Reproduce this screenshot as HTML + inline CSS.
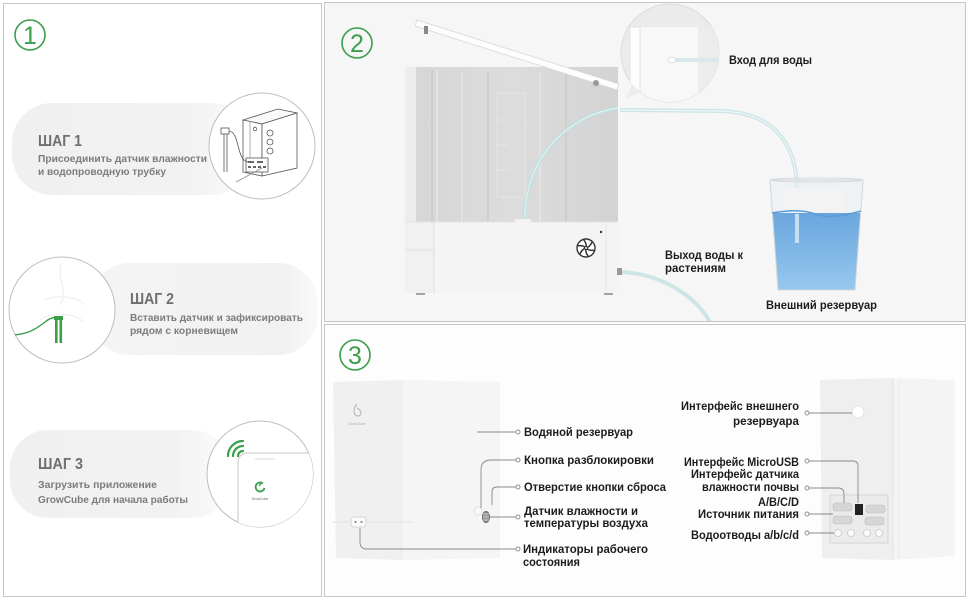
<!DOCTYPE html>
<html><head><meta charset="utf-8"><style>
html,body{margin:0;padding:0;background:#fff;}
svg{display:block;}
text{font-family:"Liberation Sans","DejaVu Sans",sans-serif;}
.lb{font-size:11.5px;font-weight:bold;fill:#1c1c1c;}
.st{font-size:16px;font-weight:bold;fill:#6f6f6f;}
.sd{font-size:10.5px;font-weight:bold;fill:#7c7c7c;}
.num{font-size:25px;fill:#3a9e4a;}
</style></head><body>
<svg width="970" height="600" viewBox="0 0 970 600" xmlns="http://www.w3.org/2000/svg">
<defs>
<clipPath id="c1"><circle cx="262" cy="146" r="53"/></clipPath>
<clipPath id="c2"><circle cx="62" cy="310" r="53"/></clipPath>
<clipPath id="c3"><circle cx="260" cy="474" r="53"/></clipPath>
<clipPath id="cb"><circle cx="670" cy="53" r="49"/></clipPath>
<clipPath id="p2"><rect x="325" y="3" width="640" height="318"/></clipPath>
<linearGradient id="b1" x1="0" x2="1" y1="0" y2="0">
<stop offset="0" stop-color="#f0f0f0"/><stop offset="0.75" stop-color="#f2f2f2"/><stop offset="1" stop-color="#fcfcfc"/></linearGradient>
<linearGradient id="b2" x1="0" x2="1" y1="0" y2="0">
<stop offset="0" stop-color="#f4f4f4"/><stop offset="0.85" stop-color="#f1f1f1"/><stop offset="1" stop-color="#f9f9f9"/></linearGradient>
<linearGradient id="water" x1="0" x2="0" y1="0" y2="1">
<stop offset="0" stop-color="#6aa6de"/><stop offset="1" stop-color="#97c8ee"/></linearGradient>
<linearGradient id="tank" x1="0" x2="1" y1="0" y2="0">
<stop offset="0" stop-color="#d6d6d6"/><stop offset="0.5" stop-color="#dcdcdc"/><stop offset="1" stop-color="#d3d3d3"/></linearGradient>
</defs>

<rect width="970" height="600" fill="#fff"/>

<!-- LEFT PANEL -->
<rect x="3.5" y="3.5" width="318" height="593" fill="#fff" stroke="#c6c6c6"/>
<circle cx="30" cy="35" r="15" fill="none" stroke="#3a9e4a" stroke-width="1.6"/>
<text x="30" y="44" text-anchor="middle" class="num">1</text>

<rect x="12" y="103" width="240" height="92" rx="40" fill="url(#b1)"/>
<text x="38" y="146" class="st" textLength="44" lengthAdjust="spacingAndGlyphs">ШАГ 1</text>
<text x="38" y="162" class="sd" textLength="169" lengthAdjust="spacingAndGlyphs">Присоединить датчик влажности</text>
<text x="38" y="175" class="sd" textLength="128" lengthAdjust="spacingAndGlyphs">и водопроводную трубку</text>
<circle cx="262" cy="146" r="53" fill="#fff" stroke="#bdbdbd"/>
<g clip-path="url(#c1)" fill="none" stroke="#555" stroke-width="0.8">
<polygon points="243,120 262,124 297,113 278,109" fill="#fafafa"/>
<polygon points="243,120 262,124 262,176 243,172" fill="#fff"/>
<polygon points="262,124 297,113 297,168 262,176" fill="#fff"/>
<line x1="250" y1="121" x2="250" y2="158" stroke="#999"/>
<circle cx="255" cy="129" r="1.8"/>
<circle cx="270" cy="133" r="3"/><circle cx="270" cy="142" r="3"/><circle cx="270" cy="151" r="3"/>
<rect x="246" y="158" width="22" height="14" fill="#fff"/>
<path d="M248 162h6M257 162h6M248 167h3M253 167h3M258 167h3M263 167h3" stroke="#333" stroke-width="1.5"/>
<line x1="224" y1="132" x2="224" y2="172"/><line x1="227" y1="132" x2="227" y2="172"/>
<rect x="221" y="128" width="8" height="6" fill="#fff"/>
<path d="M229 131 C240 132, 236 160, 248 162"/>
<path d="M236 182 L262 168" stroke="#888"/>
</g>

<rect x="90" y="263" width="228" height="92" rx="40" fill="url(#b2)"/>
<text x="130" y="304" class="st" textLength="44" lengthAdjust="spacingAndGlyphs">ШАГ 2</text>
<text x="130" y="321" class="sd" textLength="173" lengthAdjust="spacingAndGlyphs">Вставить датчик и зафиксировать</text>
<text x="130" y="334" class="sd" textLength="108" lengthAdjust="spacingAndGlyphs">рядом с корневищем</text>
<circle cx="62" cy="310" r="53" fill="#fff" stroke="#bdbdbd"/>
<g clip-path="url(#c2)">
<path d="M62 262 C55 280, 70 290, 60 305 M45 300 C55 295, 75 295, 85 305 M40 320 C50 312, 72 312, 84 322" fill="none" stroke="#f2f2f2" stroke-width="1.5"/>
<path d="M5 335 C25 336, 35 330, 45 322 C50 318, 54 317, 57 318" fill="none" stroke="#3a9e4a" stroke-width="1.4"/>
<rect x="54" y="316" width="9" height="4" fill="#3a9e4a"/>
<rect x="55" y="318" width="2.6" height="25" fill="#3a9e4a"/>
<rect x="59.5" y="318" width="2.6" height="25" fill="#3a9e4a"/>
</g>

<rect x="10" y="430" width="220" height="88" rx="38" fill="url(#b1)"/>
<text x="38" y="469" class="st" textLength="45" lengthAdjust="spacingAndGlyphs">ШАГ 3</text>
<text x="38" y="488" class="sd" textLength="119" lengthAdjust="spacingAndGlyphs">Загрузить приложение</text>
<text x="38" y="503" class="sd" textLength="150" lengthAdjust="spacingAndGlyphs">GrowCube для начала работы</text>
<circle cx="260" cy="474" r="53" fill="#fff" stroke="#bdbdbd"/>
<g clip-path="url(#c3)">
<rect x="238" y="453" width="80" height="110" rx="9" fill="#fff" stroke="#c6c6c6"/>
<line x1="255" y1="459" x2="275" y2="459" stroke="#ddd" stroke-width="1.2"/>
<path d="M263 483.5 A4.5 4.5 0 1 0 264.5 488" fill="none" stroke="#3a9e4a" stroke-width="1.8"/>
<path d="M259 486 L262 482" stroke="#3a9e4a" stroke-width="1.4"/>
<text x="260" y="500" text-anchor="middle" style="font-size:3.5px;fill:#666">GrowCube</text>
</g>
<g fill="none" stroke="#3a9e4a" stroke-width="2.2" stroke-linecap="round">
<path d="M238 456 A5 5 0 0 1 243 451"/>
<path d="M233 456 A10 10 0 0 1 243 446"/>
<path d="M228 456 A15 15 0 0 1 243 441"/>
</g>

<!-- PANEL 2 -->
<rect x="324.5" y="2.5" width="641" height="319" fill="#f6f6f6" stroke="#c6c6c6"/>
<circle cx="357" cy="43" r="15" fill="none" stroke="#3a9e4a" stroke-width="1.6"/>
<text x="357" y="52" text-anchor="middle" class="num">2</text>

<!-- device -->
<rect x="405" y="67" width="213" height="155" fill="url(#tank)"/>
<rect x="405" y="67" width="11" height="155" fill="#ededed"/>
<g stroke-width="2">
<line x1="432" y1="70" x2="432" y2="222" stroke="#cdcdcd"/>
<line x1="437" y1="70" x2="437" y2="222" stroke="#e2e2e2"/>
<line x1="462" y1="72" x2="462" y2="222" stroke="#e2e2e2"/>
<line x1="488" y1="72" x2="488" y2="222" stroke="#cecece"/>
<line x1="540" y1="72" x2="540" y2="222" stroke="#e2e2e2"/>
<line x1="566" y1="75" x2="566" y2="222" stroke="#cdcdcd"/>
</g>
<rect x="497" y="93" width="28" height="104" fill="none" stroke="#e6e6e6"/>
<path d="M497 120h12M497 145h12M497 170h12" stroke="#e6e6e6"/>
<rect x="405" y="222" width="213" height="71" fill="#f4f4f4"/>
<rect x="405" y="222" width="29" height="71" fill="#f1f1f1"/>
<line x1="434" y1="222" x2="434" y2="293" stroke="#dedede"/>
<line x1="405" y1="250" x2="434" y2="250" stroke="#dedede"/>
<line x1="606" y1="222" x2="606" y2="293" stroke="#e6e6e6"/>
<line x1="405" y1="222" x2="618" y2="222" stroke="#e3e3e3"/>
<rect x="515" y="219" width="16" height="4" fill="#f2f2f2"/>
<path d="M416 294h9M604 294h9" stroke="#888" stroke-width="1.5"/>
<circle cx="601" cy="232" r="1.2" fill="#333"/>
<g transform="translate(586,248)">
<circle r="9" fill="#fff" stroke="#333" stroke-width="1.4"/>
<g fill="none" stroke="#333" stroke-width="1.5">
<path d="M0 0 Q4 -1 6 -6"/><path d="M0 0 Q4 -1 6 -6" transform="rotate(60)"/>
<path d="M0 0 Q4 -1 6 -6" transform="rotate(120)"/><path d="M0 0 Q4 -1 6 -6" transform="rotate(180)"/>
<path d="M0 0 Q4 -1 6 -6" transform="rotate(240)"/><path d="M0 0 Q4 -1 6 -6" transform="rotate(300)"/>
</g>
<circle r="1.5" fill="#fff" stroke="#333"/>
</g>
<!-- inner tube -->
<path d="M525 218 C525 155, 570 115, 618 108" fill="none" stroke="#bfe0e0" stroke-width="3.5"/>
<path d="M525 218 C525 155, 570 115, 618 108" fill="none" stroke="#e8f4f4" stroke-width="1"/>
<!-- lid -->
<polygon points="417,20 619,84 617,90 415,26" fill="#fdfdfd" stroke="#d8d8d8" stroke-width="0.8"/>
<rect x="424" y="26" width="4" height="8" fill="#888"/>
<circle cx="596" cy="83" r="3" fill="#999"/>
<!-- outer tube -->
<path d="M620 110 L720 111 C770 112, 797 140, 797 190 L797 243" fill="none" stroke="#cde5e7" stroke-width="4"/>
<path d="M620 110 L720 111 C770 112, 797 140, 797 190 L797 243" fill="none" stroke="#eef7f8" stroke-width="1.2"/>
<path d="M622 272 C660 274, 695 295, 710 322" fill="none" stroke="#cde5e7" stroke-width="4" clip-path="url(#p2)"/>
<rect x="617" y="268" width="5" height="7" fill="#999"/>
<!-- zoom bubble -->
<g clip-path="url(#p2)">
<polygon points="632,85 626,98 642,92" fill="#ececec"/>
<circle cx="670" cy="53" r="49" fill="#ebebeb" stroke="#dcdcdc"/>
<g clip-path="url(#cb)">
<rect x="630" y="27" width="68" height="80" fill="#f8f8f8"/>
<rect x="630" y="27" width="10" height="80" fill="#fdfdfd" stroke="#e2e2e2"/>
<rect x="698" y="27" width="30" height="80" fill="#ececec"/>
<path d="M672 60 L722 60" stroke="#d9e8ea" stroke-width="4"/>
<rect x="668" y="57.5" width="8" height="5" rx="2.5" fill="#fff" stroke="#ccc" stroke-width="0.6"/>
</g>
</g>
<!-- cup -->
<path d="M770 180 L863 180 L860.6 213 L772.4 213 Z" fill="rgba(235,240,243,0.6)"/>
<rect x="785" y="188" width="60" height="26" fill="#f3f3f3"/>
<path d="M772.4 213 L860.6 213 L855 290 L778 290 Z" fill="url(#water)"/>
<path d="M770 180 L863 180 L855 290 L778 290 Z" fill="none" stroke="#d2d7da" stroke-width="1"/>
<path d="M772 213 Q800 208 815 214 T861 211" fill="none" stroke="#5c9bd4" stroke-width="1.5"/>
<path d="M797 214 L797 243" stroke="#c6e0f1" stroke-width="4"/>
<ellipse cx="816.5" cy="180" rx="46.5" ry="2" fill="none" stroke="#d8dcdf"/>
<text x="729" y="64" class="lb" textLength="83" lengthAdjust="spacingAndGlyphs">Вход для воды</text>
<text x="665" y="259" class="lb" textLength="78" lengthAdjust="spacingAndGlyphs">Выход воды к</text>
<text x="665" y="272" class="lb" textLength="61" lengthAdjust="spacingAndGlyphs">растениям</text>
<text x="766" y="309" class="lb" textLength="111" lengthAdjust="spacingAndGlyphs">Внешний резервуар</text>

<!-- PANEL 3 -->
<rect x="324.5" y="324.5" width="641" height="272" fill="#fdfdfd" stroke="#c6c6c6"/>
<circle cx="355" cy="355" r="15" fill="none" stroke="#3a9e4a" stroke-width="1.6"/>
<text x="355" y="364" text-anchor="middle" class="num">3</text>

<!-- front device -->
<path d="M333 382 L402 380 L402 560 L336 558 Z" fill="#f0f0f0"/>
<path d="M402 380 L500 382 L500 558 L402 560 Z" fill="#f5f5f5"/>
<line x1="402" y1="380" x2="402" y2="560" stroke="#ebebeb"/>
<line x1="333" y1="522" x2="412" y2="522" stroke="#e2e2e2"/>
<path d="M357 404 C352 410, 354 416, 358 416 C362 416, 362 410, 357 408" fill="none" stroke="#bbb" stroke-width="1.2"/>
<text x="357" y="425" text-anchor="middle" style="font-size:3.5px;fill:#aaa">GrowCube</text>
<rect x="351" y="517" width="15" height="10" rx="3" fill="#fbfbfb" stroke="#d4d4d4"/>
<circle cx="355.5" cy="522" r="1" fill="#777"/><circle cx="361.5" cy="522" r="1" fill="#777"/>
<circle cx="478" cy="511" r="4" fill="#f8f8f8" stroke="#e0e0e0"/>
<ellipse cx="486" cy="517" rx="3.5" ry="5.5" fill="#999" stroke="#666"/>
<path d="M483 514h6M483 517h6M483 520h6" stroke="#ddd" stroke-width="0.7"/>

<g fill="none" stroke="#8a8a8a" stroke-width="0.9">
<path d="M477 432 L516 432"/>
<path d="M481 508 L481 470 Q481 460 491 460 L516 460"/>
<path d="M492 505 L492 492 Q492 487 497 487 L516 487"/>
<path d="M490 517 L516 517"/>
<path d="M360 528 L360 542 Q360 549 367 549 L516 549"/>
</g>
<g fill="#fff" stroke="#8a8a8a" stroke-width="0.9">
<circle cx="518" cy="432" r="2"/><circle cx="518" cy="460" r="2"/><circle cx="518" cy="487" r="2"/>
<circle cx="518" cy="517" r="2"/><circle cx="518" cy="549" r="2"/>
</g>
<text x="524" y="436" class="lb" textLength="109" lengthAdjust="spacingAndGlyphs">Водяной резервуар</text>
<text x="524" y="464" class="lb" textLength="130" lengthAdjust="spacingAndGlyphs">Кнопка разблокировки</text>
<text x="524" y="491" class="lb" textLength="142" lengthAdjust="spacingAndGlyphs">Отверстие кнопки сброса</text>
<text x="524" y="515" class="lb" textLength="114" lengthAdjust="spacingAndGlyphs">Датчик влажности и</text>
<text x="524" y="527" class="lb" textLength="124" lengthAdjust="spacingAndGlyphs">температуры воздуха</text>
<text x="523" y="553" class="lb" textLength="125" lengthAdjust="spacingAndGlyphs">Индикаторы рабочего</text>
<text x="523" y="566" class="lb" textLength="57" lengthAdjust="spacingAndGlyphs">состояния</text>

<!-- back device -->
<path d="M820 380 L893 378 L893 560 L822 558 Z" fill="#efefef"/>
<path d="M893 378 L955 380 L955 556 L893 560 Z" fill="#f4f4f4"/>
<line x1="893" y1="378" x2="893" y2="560" stroke="#e2e2e2"/>
<line x1="899" y1="379" x2="899" y2="559" stroke="#eaeaea"/>
<circle cx="858" cy="412" r="6" fill="#fff" stroke="#e2e2e2"/>
<rect x="830" y="495" width="58" height="48" fill="#ebebeb" stroke="#d4d4d4"/>
<g fill="#d6d6d6" stroke="#bcbcbc" stroke-width="0.6">
<rect x="833" y="503" width="19" height="8" rx="3"/>
<rect x="866" y="505" width="19" height="8" rx="3"/>
<rect x="833" y="516" width="19" height="8" rx="3"/>
<rect x="865" y="517" width="19" height="8" rx="3"/>
</g>
<rect x="855" y="504" width="8" height="11" fill="#222"/>
<g fill="#fafafa" stroke="#bbb" stroke-width="0.6">
<circle cx="838" cy="533" r="3.5"/><circle cx="851" cy="533" r="3.5"/>
<circle cx="867" cy="533" r="3.5"/><circle cx="879" cy="533" r="3.5"/>
</g>
<g fill="none" stroke="#8a8a8a" stroke-width="0.9">
<path d="M809 413 L852 413"/>
<path d="M809 461 L853 461 Q858 461 858 466 L858 503"/>
<path d="M809 488 L838 488 Q844 488 844 494 L844 503"/>
<path d="M809 514 L833 514"/>
<path d="M809 533 L834 533"/>
</g>
<g fill="#fff" stroke="#8a8a8a" stroke-width="0.9">
<circle cx="807" cy="413" r="2"/><circle cx="807" cy="461" r="2"/><circle cx="807" cy="488" r="2"/>
<circle cx="807" cy="514" r="2"/><circle cx="807" cy="533" r="2"/>
</g>
<g text-anchor="end">
<text x="799" y="410" class="lb" textLength="118" lengthAdjust="spacingAndGlyphs">Интерфейс внешнего</text>
<text x="799" y="425" class="lb" textLength="66" lengthAdjust="spacingAndGlyphs">резервуара</text>
<text x="799" y="466" class="lb" textLength="115" lengthAdjust="spacingAndGlyphs">Интерфейс MicroUSB</text>
<text x="799" y="478" class="lb" textLength="108" lengthAdjust="spacingAndGlyphs">Интерфейс датчика</text>
<text x="799" y="491" class="lb" textLength="97" lengthAdjust="spacingAndGlyphs">влажности почвы</text>
<text x="799" y="506" class="lb" textLength="41" lengthAdjust="spacingAndGlyphs">A/B/C/D</text>
<text x="799" y="518" class="lb" textLength="101" lengthAdjust="spacingAndGlyphs">Источник питания</text>
<text x="799" y="539" class="lb" textLength="108" lengthAdjust="spacingAndGlyphs">Водоотводы a/b/c/d</text>
</g>
</svg>
</body></html>
